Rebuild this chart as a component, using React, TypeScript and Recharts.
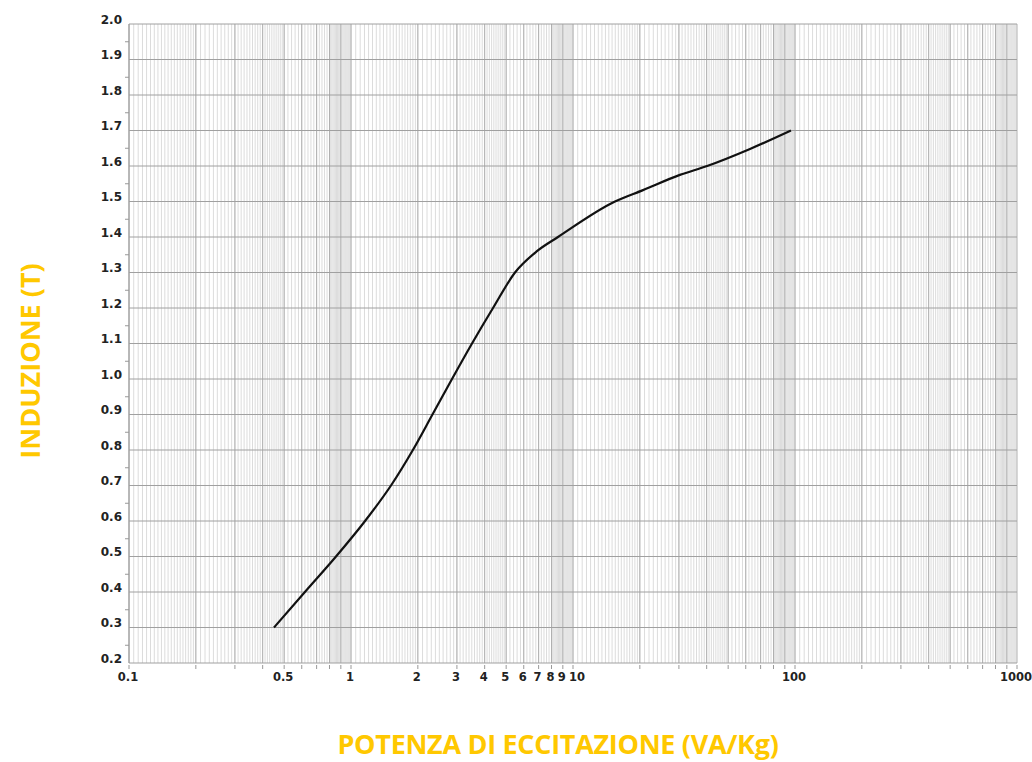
import { LineChart, Line, XAxis, YAxis, CartesianGrid } from "recharts";

// B-H curve (VA/Kg vs T)
const power = [0.45, 0.62, 0.856, 1.157, 1.514, 1.9, 2.328, 2.851, 3.508, 4.362, 5.48, 6.88, 8.56, 15.46, 20.67, 30.3, 40.2, 62.7, 95.9];
const induction = [0.3, 0.4, 0.5, 0.6, 0.7, 0.8, 0.9, 1.0, 1.1, 1.2, 1.3, 1.36, 1.4, 1.5, 1.532, 1.575, 1.6, 1.648, 1.7];

const xLabels = [0.1, 0.5, 1, 2, 3, 4, 5, 6, 7, 8, 9, 10, 100, 1000];
const yTicks = [0.2, 0.25, 0.3, 0.35, 0.4, 0.45, 0.5, 0.55, 0.6, 0.65, 0.7, 0.75, 0.8, 0.85, 0.9, 0.95, 1.0, 1.05, 1.1, 1.15, 1.2, 1.25, 1.3, 1.35, 1.4, 1.45, 1.5, 1.55, 1.6, 1.65, 1.7, 1.75, 1.8, 1.85, 1.9, 1.95, 2.0];
const yLines = [0.3, 0.4, 0.5, 0.6, 0.7, 0.8, 0.9, 1.0, 1.1, 1.2, 1.3, 1.4, 1.5, 1.6, 1.7, 1.8, 1.9, 2.0];
const decades = [0.1, 1, 10, 100];

// log-paper rulings inside each decade: [from, to, step]
const rulings = [
  [1, 2, 0.05],
  [2, 5, 0.1],
  [5, 8, 0.2],
  [8, 10, 0.1],
];

const majorX: number[] = [];
const minorX: number[] = [];
decades.forEach((d) => {
  for (let m = 1; m <= 9; m++) majorX.push(+(m * d).toPrecision(6));
  rulings.forEach(([a, b, s]) => {
    for (let m = a; m < b - 1e-9; m += s) minorX.push(+(m * d).toPrecision(6));
  });
});
majorX.push(1000);

const data = power.map((p, i) => ({ p, b: induction[i] }));

const labelFont = "'DejaVu Sans', Verdana, sans-serif";

const XTick = (props: any) => {
  const { x, y, payload } = props;
  const v = payload.value;
  const show = xLabels.some((l) => Math.abs(l - v) < 1e-6);
  // the "10" label sits a little right so it clears the "9"
  const dx = Math.abs(v - 10) < 1e-6 ? 4 : -1;
  return (
    <g>
      <line x1={x} x2={x} y1={y - 6} y2={y - 2} stroke="#999" />
      {show && (
        <text x={x + dx} y={y + 10} textAnchor="middle" fontSize={11.5} fontWeight={600} fill="#222" fontFamily={labelFont}>
          {v}
        </text>
      )}
    </g>
  );
};

const YTick = (props: any) => {
  const { x, y, payload } = props;
  const v = payload.value;
  const half = Math.abs(v * 10 - Math.round(v * 10)) > 0.01;
  if (half) {
    return <line x1={x + 4} x2={x + 8} y1={y} y2={y} stroke="#999" />;
  }
  return (
    <text x={x + 1} y={y - 0.5} textAnchor="end" fontSize={12} fontWeight={600} fill="#222" fontFamily={labelFont}>
      {v.toFixed(1)}
    </text>
  );
};

export default function App() {
  return (
    <div style={{ position: "absolute", left: 0, top: 0, width: 1032, height: 762, background: "#fff" }}>
      <LineChart width={1032} height={762} data={data} margin={{ top: 24, right: 15, bottom: 69, left: 0 }}>
        <CartesianGrid stroke="#dcdcdc" horizontal={false} verticalValues={minorX} />
        <CartesianGrid stroke="#b0b0b0" horizontal={false} verticalValues={majorX} />
        <CartesianGrid stroke="#a0a0a0" vertical={false} horizontalValues={yLines} />
        <XAxis
          dataKey="p"
          type="number"
          scale="log"
          domain={[0.1, 1000]}
          allowDataOverflow
          ticks={majorX}
          interval={0}
          tick={<XTick />}
          tickLine={false}
          axisLine={{ stroke: "#a0a0a0" }}
          height={30}
        />
        <YAxis
          type="number"
          domain={[0.2, 2.0]}
          ticks={yTicks}
          interval={0}
          tick={<YTick />}
          tickLine={false}
          axisLine={{ stroke: "#a0a0a0" }}
          width={129}
        />
        <Line
          type="monotone"
          dataKey="b"
          stroke="#111"
          strokeWidth={2.2}
          dot={false}
          isAnimationActive={false}
        />
      </LineChart>
      <div
        style={{
          position: "absolute",
          left: 0,
          width: 1032,
          top: 728,
          textAlign: "center",
          paddingLeft: 84,
          boxSizing: "border-box",
          fontFamily: "'Open Sans', sans-serif",
          fontWeight: 700,
          fontSize: 27,
          color: "#FFC800",
          letterSpacing: -0.3,
          lineHeight: "32px",
        }}
      >
        POTENZA DI ECCITAZIONE (VA/Kg)
      </div>
      <div
        style={{
          position: "absolute",
          left: 30,
          top: 361,
          transform: "translate(-50%, -50%) rotate(-90deg)",
          whiteSpace: "nowrap",
          fontFamily: "'Open Sans', sans-serif",
          fontWeight: 700,
          fontSize: 27,
          color: "#FFC800",
          letterSpacing: 0,
          lineHeight: "32px",
        }}
      >
        INDUZIONE (T)
      </div>
    </div>
  );
}
